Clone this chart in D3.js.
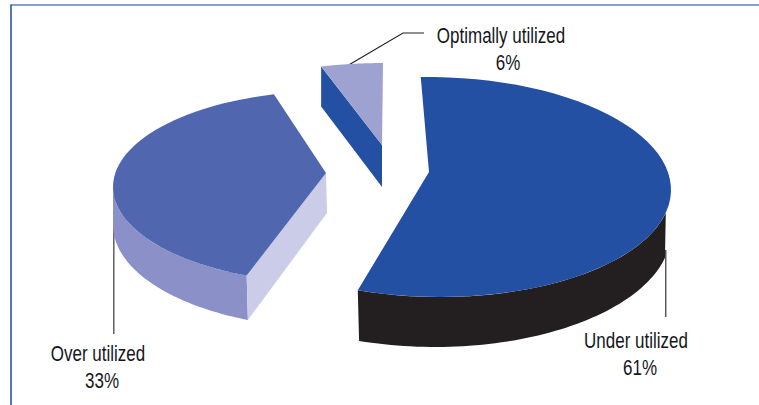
<!DOCTYPE html>
<html>
<head>
<meta charset="utf-8">
<title>Utilization</title>
<script src="https://cdn.jsdelivr.net/npm/d3@7/dist/d3.min.js"></script>
<style>
  html, body { margin: 0; padding: 0; background: #fff; }
  svg { display: block; }
  text { font-family: "Liberation Sans", sans-serif; fill: #16161a; }
</style>
</head>
<body>
<svg id="chart" width="759" height="405"></svg>
<script>
// Share of capacity by utilization class
const categories = ["Under utilized", "Over utilized", "Optimally utilized"];
const shares = [61, 33, 6];
const shareLabels = ["61%", "33%", "6%"];

// Colours per slice
const topColors = ["#2450a3", "#5067b0", "#9da2d1"];
const rimColors = ["#231f20", "#8b90c8", "#2450a3"];
const cutColors = ["#231f20", "#cbcde8", "#2450a3"];

const rad = Math.PI / 180;

// Each exploded slice sits on its own perspective ellipse: apex is the projected
// pie centre, top and low are the upper and lower rim ellipses.
const sliceViews = [
  { apex: [429, 172], turn: 0,
    top: { cx: 434, cy: 187, rx: 237, ry: 110, tilt: 0.012 },
    low: { cx: 435, cy: 232, rx: 236, ry: 115, tilt: 0 },
    rimFrom: { top: 102, low: 103 } },
  { apex: [326, 173], turn: 4,
    top: { cx: 331, cy: 187, rx: 218, ry: 96, tilt: 0 },
    low: { cx: 333, cy: 225, rx: 220, ry: 103, tilt: 0 },
    rimTo: { top: 270, low: 270 } },
  { apex: [382, 145], turn: 2.7,
    top: { cx: 385, cy: 148, rx: 225, ry: 85, tilt: 0 },
    depth: 41 }
];

// Foreshortening of the tilted disc: rim positions bunch and spread around the pie
const skew = 24.8 * rad, skewPhase = 138 * rad, rimOrigin = -19.8 * rad;
const rimAngle = a => a + skew * Math.sin(a + skewPhase) + rimOrigin;

const rimPoint = (e, t) => {
  const x = e.cx + e.rx * Math.sin(t);
  return [x, e.cy - e.ry * Math.cos(t) + e.tilt * (x - e.cx)];
};

// Points along an ellipse between two rim angles
const arcPoints = (e, t0, t1) => {
  const along = d3.scaleLinear().domain([0, 60]).range([t0, t1]);
  return d3.range(61).map(i => rimPoint(e, along(i)));
};

const svg = d3.select("#chart");
const outline = d3.line();

// Frame: top and left rules only
svg.append("line").attr("x1", 11).attr("x2", 759).attr("y1", 5).attr("y2", 5)
  .attr("stroke", "#5f7fc0").attr("stroke-width", 1.6);
svg.append("line").attr("x1", 11).attr("x2", 11).attr("y1", 4.5).attr("y2", 405)
  .attr("stroke", "#2c55a8").attr("stroke-width", 1.6);

const slices = d3.pie().sort(null).value(d => d)(shares).map((s, i) => {
  const view = sliceViews[i];
  const turn = view.turn * rad;
  return { i, view, t0: rimAngle(s.startAngle) + turn, t1: rimAngle(s.endAngle) + turn };
});

// Leader lines sit behind the pie bodies
const leaderData = [
  [[665.8, 250], [665.8, 317]],
  [[113.8, 197], [113.8, 334]],
  [[347, 66], [403, 33], [424, 33]]
];
svg.selectAll("path.leader").data(leaderData).join("path")
  .attr("class", "leader")
  .attr("d", outline)
  .attr("fill", "none")
  .attr("stroke", (d, i) => i === 1 ? "#55555a" : "#231f20")
  .attr("stroke-width", (d, i) => i === 1 ? 1.4 : 1.1);

// Under utilized: dark wall below the front rim
{
  const s = slices[0], v = s.view;
  const upper = arcPoints(v.top, v.rimFrom.top * rad, s.t1);
  const lower = arcPoints(v.low, v.rimFrom.low * rad, s.t1).reverse();
  svg.append("path").attr("d", outline([...upper, ...lower]) + "Z").attr("fill", rimColors[0]);
}

// Over utilized: rim wall and the cut face toward the centre
{
  const s = slices[1], v = s.view;
  const upper = arcPoints(v.top, s.t0, v.rimTo.top * rad);
  const lower = arcPoints(v.low, s.t0, v.rimTo.low * rad).reverse();
  svg.append("path").attr("d", outline([...upper, ...lower]) + "Z").attr("fill", rimColors[1]);
  const a = rimPoint(v.top, s.t0), b = rimPoint(v.low, s.t0);
  const inner = [v.apex[0] + 1, v.apex[1] + 40];
  svg.append("path").attr("d", outline([v.apex, a, b, inner]) + "Z").attr("fill", cutColors[1]);
}

// Optimally utilized: the single visible cut wall
{
  const s = slices[2], v = s.view;
  const a = rimPoint(v.top, s.t0);
  svg.append("path")
    .attr("d", outline([a, v.apex, [v.apex[0], v.apex[1] + v.depth + 1], [a[0], a[1] + v.depth - 1]]) + "Z")
    .attr("fill", rimColors[2]);
}

// Top faces
svg.selectAll("path.top").data(slices).join("path")
  .attr("class", "top")
  .attr("d", s => outline([s.view.apex, ...arcPoints(s.view.top, s.t0, s.t1)]) + "Z")
  .attr("fill", s => topColors[s.i]);

// Labels, set in a condensed width
const labelPlaces = [
  { x: [636, 640], y: [348, 375] },
  { x: [98, 102], y: [361, 388] },
  { x: [501, 508], y: [43, 70] }
];
const condense = 0.755;
const placeText = (sel, n) => sel
  .attr("transform", (d, i) => `translate(${labelPlaces[i].x[n]},${labelPlaces[i].y[n]}) scale(${condense},1)`)
  .attr("text-anchor", "middle").attr("font-size", 22.5);
const labels = svg.selectAll("g.label").data(categories).join("g").attr("class", "label");
labels.append("text").call(placeText, 0).text(d => d);
labels.append("text").call(placeText, 1).text((d, i) => shareLabels[i]);
</script>
</body>
</html>
